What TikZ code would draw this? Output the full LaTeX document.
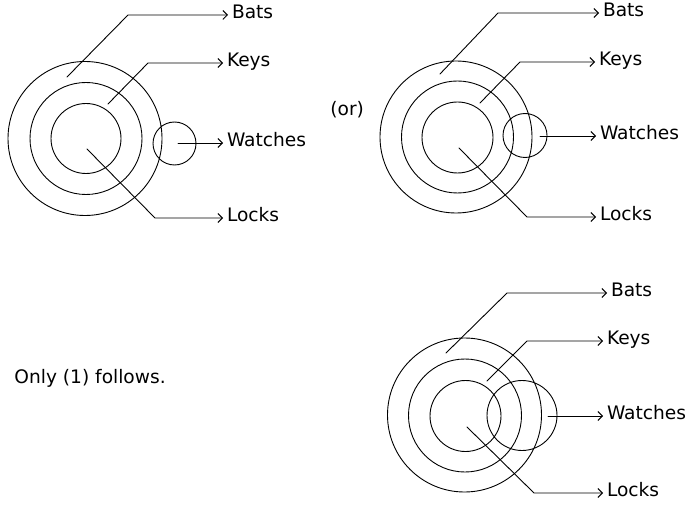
\documentclass[tikz,border=0pt]{standalone}
\usepackage{fontspec}
\setmainfont{DejaVu Sans}
\usetikzlibrary{arrows.meta}
\begin{document}
\begin{tikzpicture}[x=1pt, y=-1pt, line join=round, line cap=round, line width=0.9pt,
  >={Straight Barb[length=4.5pt,width=9pt]}, font=\fontsize{18.6}{21}\selectfont,
  lbl/.style={anchor=west, inner sep=0pt, outer sep=4pt, text height=0.73em, text depth=0pt},
  txt/.style={anchor=west, inner sep=0pt, text height=0.73em, text depth=0pt}]
\useasboundingbox (0,0) rectangle (688,505);
% first picture
\draw
  (85,138.5) circle (77)
  (86,138.5) circle (56)
  (86,138.5) circle (35)
  (174.5,143.5) circle (21.5);
% second picture
\draw
  (456,137) circle (76)
  (457.5,137) circle (56)
  (457.5,137.5) circle (35.5)
  (525,135.5) circle (22);
% third picture
\draw
  (464.5,415) circle (77)
  (465,415.5) circle (56.5)
  (465.5,416) circle (35.5)
  (522,415.5) circle (35);
\foreach \n/\lab/\sx/\sy/\cx/\cy/\tx in {
  batsA/Bats/67/77/128/15/228, keysA/Keys/108/104/148/63/223,
  watchesA/Watches/178/143/178/143/223, locksA/Locks/87/149/155/218/223,
  batsB/Bats/440/74/498/13/599, keysB/Keys/480/103/520/62/595,
  watchesB/Watches/540/136/540/136/596, locksB/Locks/459/148/527/217/596,
  batsC/Bats/446/353/507/293/607, keysC/Keys/487/381/527/341/603,
  watchesC/Watches/548/416/548/416/603, locksC/Locks/467/427/534/493/603}
{
  \node[lbl] (\n) at (\tx,\cy) {\lab};
  \coordinate (\n-s) at (\sx,\sy);
  \draw[->] (\n-s) -- (\cx,\cy) -- (\n.west);
}
\node[txt] (or) at (330,112) {(or)};
\node[txt] (only) at (14,380) {Only (1) follows.};
\end{tikzpicture}
\end{document}
